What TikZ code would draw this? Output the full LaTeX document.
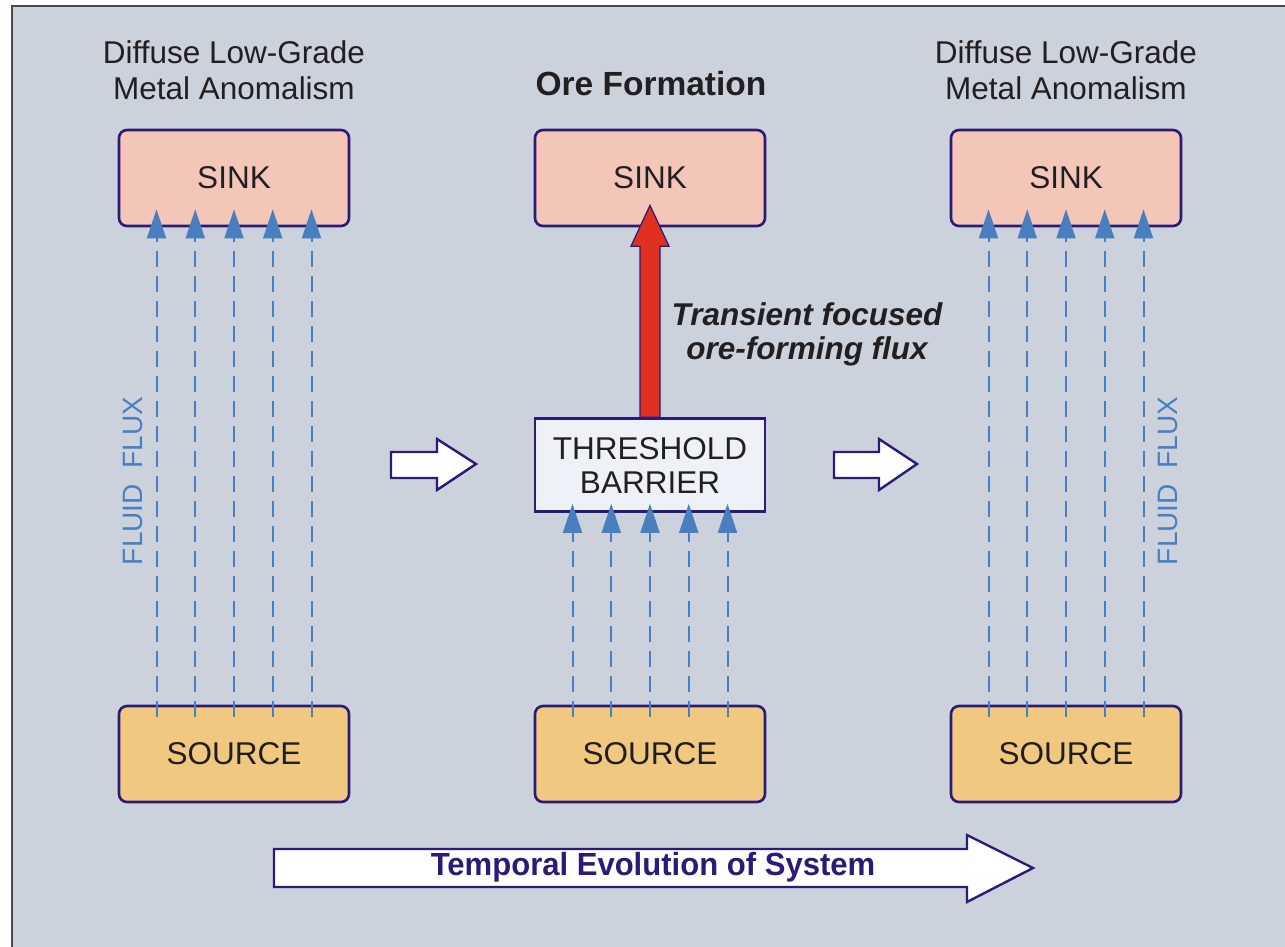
\documentclass[tikz,border=0pt]{standalone}
\usepackage{fontspec}
\setmainfont{Liberation Sans}
\usetikzlibrary{arrows.meta,calc}
\definecolor{bg}{HTML}{CBD2DC}
\definecolor{frame}{HTML}{4A4A4A}
\definecolor{navy}{HTML}{2B1A78}
\definecolor{sinkc}{HTML}{F4C6B8}
\definecolor{srcc}{HTML}{F0C880}
\definecolor{thrc}{HTML}{EEF1F7}
\definecolor{fluxc}{HTML}{4A7FBF}
\definecolor{txt}{HTML}{231F20}
\definecolor{redc}{HTML}{E03020}
\tikzset{
  box/.style={draw=navy, line width=2.6pt, rounded corners=8pt, minimum width=230pt, minimum height=96pt, inner sep=0pt, font=\fontsize{31.5}{34}\selectfont, text=txt},
  sinkbox/.style={box, fill=sinkc},
  srcbox/.style={box, fill=srcc},
  thrbox/.style={draw=navy, line width=2.6pt, fill=thrc, minimum width=230pt, minimum height=93pt, inner sep=0pt, align=center, font=\fontsize{31.5}{34}\selectfont, text=txt},
  flux/.style={draw=fluxc, line width=2pt, dash pattern=on 16pt off 9pt, -{Triangle[length=29pt,width=19pt,fill=fluxc]}},
  head/.style={font=\fontsize{31.5}{36}\selectfont, text=txt, align=center},
  hollow/.style={draw=navy, line width=2.4pt, fill=white, line join=miter},
  fluxlabel/.style={font=\fontsize{28}{30}\selectfont, text=fluxc, rotate=90}
}
\begin{document}
\begin{tikzpicture}[x=1pt,y=-1pt]
\useasboundingbox (0,0) rectangle (1285,946);
\fill[white] (0,0) rectangle (1285,946);
\draw[frame, line width=2.5pt, fill=bg] (12,6) rectangle (1300,960);

% headings
\node[head] (h1) at (234,70) {Diffuse Low-Grade\\Metal Anomalism};
\node[head, font=\fontsize{33.5}{36}\selectfont\bfseries] (h2) at (651,84) {Ore Formation};
\node[head] (h3) at (1066,70) {Diffuse Low-Grade\\Metal Anomalism};

% boxes
\node[sinkbox] (s1) at (234,178) {SINK};
\node[sinkbox] (s2) at (650,178) {SINK};
\node[sinkbox] (s3) at (1066,178) {SINK};
\node[srcbox] (r1) at (234,754) {SOURCE};
\node[srcbox] (r2) at (650,754) {SOURCE};
\node[srcbox] (r3) at (1066,754) {SOURCE};
\node[thrbox] (t) at (650,465) {THRESHOLD\\BARRIER};

% flux arrows
\foreach \dx in {-77.5,-38.75,0,38.75,77.5}{
  \draw[flux] ($(r1.north)+(\dx,12)$) -- ($(s1.south)+(\dx,-18)$);
  \draw[flux] ($(r3.north)+(\dx,12)$) -- ($(s3.south)+(\dx,-18)$);
  \draw[flux] ($(r2.north)+(\dx,12)$) -- ($(t.south)+(\dx,-9)$);
}

% fluid flux labels
\node[fluxlabel] (f1) at (133,481) {FLUID\ \ FLUX};
\node[fluxlabel] (f3) at (1168,481) {FLUID\ \ FLUX};

% red arrow
\draw[draw=navy, line width=1.2pt, fill=redc, line join=miter]
  ($(t.north)+(-10,0)$) -- ++(0,-171) -- ++(-9,0) -- ($(s2.south)+(0,-22)$)
  -- ($(t.north)+(19,-171)$) -- ($(t.north)+(10,-171)$) -- ($(t.north)+(10,0)$) -- cycle;
\node[font=\fontsize{31.5}{34}\selectfont\bfseries\itshape, text=txt, align=center] (lab) at (807,334) {Transient focused\\ore-forming flux};

% small hollow arrows
\draw[hollow] (391,452) -- (437,452) -- (437,439) -- (476,464) -- (437,490) -- (437,478) -- (391,478) -- cycle;
\draw[hollow] (834,452) -- (879,452) -- (879,439) -- (917,464) -- (879,490) -- (879,478) -- (834,478) -- cycle;

% big time arrow
\draw[hollow] (274,849) -- (967,849) -- (967,835) -- (1033,868) -- (967,902) -- (967,887) -- (274,887) -- cycle;
\node[text=navy, font=\fontsize{32}{34}\selectfont\bfseries] (time) at (653,867) {\scalebox{0.97}[1]{Temporal Evolution of System}};
\end{tikzpicture}
\end{document}
